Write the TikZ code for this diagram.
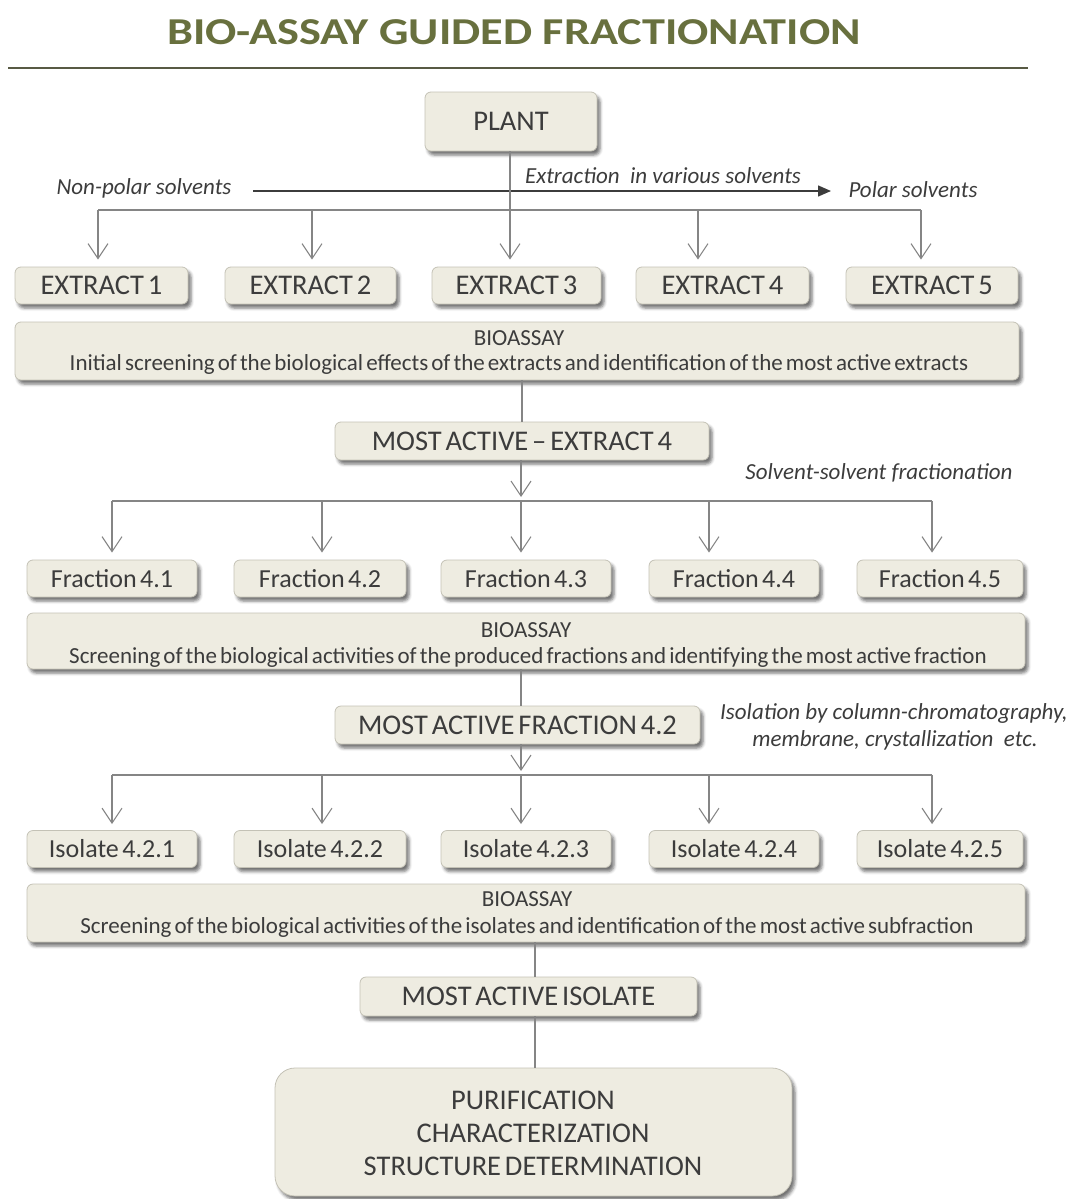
\documentclass[tikz,border=0pt]{standalone}
\usepackage{fontspec}
\setmainfont{Carlito}
\newfontfamily\boxfont{Carlito}[WordSpace=0.6]
\usetikzlibrary{arrows.meta,shadows.blur}

\definecolor{titleolive}{RGB}{104,112,62}
\definecolor{rulecol}{RGB}{88,90,68}
\definecolor{boxfill}{HTML}{EEECE1}
\definecolor{boxedge}{HTML}{C4C2B6}
\definecolor{ink}{HTML}{3C3C3C}
\definecolor{linkcol}{HTML}{858585}

\tikzset{
  box/.style={draw=boxedge, fill=boxfill, line width=0.8pt, rounded corners=6pt,
    inner sep=0pt, text=ink, font=\boxfont\fontsize{28.5}{32}\selectfont,
    blur shadow={shadow xshift=3pt, shadow yshift=-4pt, shadow blur radius=3pt, shadow opacity=55}},
  smallbox/.style={box, minimum height=37pt},
  mixedbox/.style={smallbox, font=\boxfont\fontsize{26}{30}\selectfont},
  wide/.style={box, minimum width=998pt, minimum height=57pt},
  head/.style={text=ink, inner sep=0pt, font=\boxfont\fontsize{23}{26}\selectfont},
  desc/.style={text=ink, inner sep=0pt, font=\boxfont\fontsize{23}{26}\selectfont},
  note/.style={text=ink, inner sep=0pt, font=\itshape\fontsize{23}{26}\selectfont},
  finline/.style={text=ink, inner sep=0pt, font=\boxfont\fontsize{28.5}{32}\selectfont},
  link/.style={draw=linkcol, line width=1.1pt},
  openarrow/.style={link, -{Straight Barb[length=15pt,width=20pt,line width=1.1pt]}},
}

\begin{document}
\begin{tikzpicture}[x=1pt, y=-1pt]
\useasboundingbox (0,0) rectangle (1071,1199);

% title and rule
\node[text=titleolive, inner sep=0pt, font=\bfseries\fontsize{38}{42}\selectfont] (title) at (514,32)
  {\scalebox{1.218}[1]{BIO-ASSAY GUIDED FRACTIONATION}};
\coordinate (r0) at (8,68);
\coordinate (r1) at (1028,68);
\draw[rulecol, line width=2pt] (r0) -- (r1);

% plant and extraction
\node[box, minimum width=172pt, minimum height=59pt] (plant) at (511,121.5) {PLANT};

\coordinate (np0) at (253,191);
\coordinate (np1) at (831,191);
\draw[ink, line width=1.4pt, -{Triangle[length=13pt,width=11pt]}] (np0) -- (np1);
\node[note] (nonpolar) at (144,188) {Non-polar solvents};
\node[note] (extraction) at (663,176) {Extraction\ \ in various solvents};
\node[note] (polar) at (913,190) {Polar solvents};

\node[smallbox, minimum width=173pt] (e1) at (101.5,285.5) {EXTRACT 1};
\node[smallbox, minimum width=171pt] (e2) at (310.5,285.5) {EXTRACT 2};
\node[smallbox, minimum width=169pt] (e3) at (516.5,285.5) {EXTRACT 3};
\node[smallbox, minimum width=173pt] (e4) at (722.5,285.5) {EXTRACT 4};
\node[smallbox, minimum width=172pt] (e5) at (932,285.5) {EXTRACT 5};

\coordinate (b1) at (98,210);
\coordinate (b2) at (312,210);
\coordinate (b3) at (510,210);
\coordinate (b4) at (698,210);
\coordinate (b5) at (921,210);
\draw[link] (b1) -- (b5);
\draw[openarrow] (plant.south -| b3) -- ([yshift=7pt]b3 |- e3.north);
\foreach \i in {1,2,4,5}
  \draw[openarrow] (b\i) -- ([yshift=7pt]b\i |- e\i.north);

% first bioassay
\node[box, minimum width=1004pt, minimum height=58pt] (bio1) at (517,351) {};
\node[head] (bio1h) at (519,338) {BIOASSAY};
\node[desc] (bio1d) at (519,364) {Initial screening of the biological effects of the extracts and identification of the most active extracts};

\node[box, minimum width=374pt, minimum height=38pt] (ma4) at (522,441) {MOST ACTIVE – EXTRACT 4};
\draw[link] (ma4.north |- bio1.south) -- (ma4.north);
\node[note] (ssf) at (879,473) {Solvent-solvent fractionation};

% fractions
\coordinate (c1) at (112,501);
\coordinate (c2) at (322,501);
\coordinate (c3) at (521,501);
\coordinate (c4) at (709,501);
\coordinate (c5) at (932,501);
\draw[openarrow] (ma4.south -| c3) -- ([yshift=4pt]c3);
\draw[link] (c1) -- (c5);

\node[mixedbox, minimum width=170pt] (f1) at (112,578.5) {Fraction 4.1};
\node[mixedbox, minimum width=172pt] (f2) at (320,578.5) {Fraction 4.2};
\node[mixedbox, minimum width=170pt] (f3) at (526,578.5) {Fraction 4.3};
\node[mixedbox, minimum width=170pt] (f4) at (734,578.5) {Fraction 4.4};
\node[mixedbox, minimum width=166pt] (f5) at (940,578.5) {Fraction 4.5};
\foreach \i in {1,...,5}
  \draw[openarrow] (c\i) -- ([yshift=7pt]c\i |- f\i.north);

% second bioassay
\node[wide, minimum height=56pt] (bio2) at (526,641) {};
\node[head] (bio2h) at (526,630) {BIOASSAY};
\node[desc] (bio2d) at (528,657) {Screening of the biological activities of the produced fractions and identifying the most active fraction};

\node[box, minimum width=365pt, minimum height=38pt] (ma42) at (517.5,725) {MOST ACTIVE FRACTION 4.2};
\coordinate (m42top) at (521,706);
\draw[link] (m42top |- bio2.south) -- (m42top);
\node[note] (iso1) at (894,713) {Isolation by column-chromatography,};
\node[note] (iso2) at (895,740) {membrane, crystallization\ \ etc.};

% isolates
\coordinate (d1) at (112,775);
\coordinate (d2) at (322,775);
\coordinate (d3) at (521,775);
\coordinate (d4) at (709,775);
\coordinate (d5) at (932,775);
\draw[openarrow] (ma42.south -| d3) -- ([yshift=4pt]d3);
\draw[link] (d1) -- (d5);

\node[mixedbox, minimum width=170pt] (i1) at (112,849) {Isolate 4.2.1};
\node[mixedbox, minimum width=172pt] (i2) at (320,849) {Isolate 4.2.2};
\node[mixedbox, minimum width=170pt] (i3) at (526,849) {Isolate 4.2.3};
\node[mixedbox, minimum width=170pt] (i4) at (734,849) {Isolate 4.2.4};
\node[mixedbox, minimum width=166pt] (i5) at (940,849) {Isolate 4.2.5};
\foreach \i in {1,...,5}
  \draw[openarrow] (d\i) -- ([yshift=6pt]d\i |- i\i.north);

% third bioassay
\node[wide, minimum height=58pt] (bio3) at (526,913) {};
\node[head] (bio3h) at (527,899) {BIOASSAY};
\node[desc] (bio3d) at (527,927) {Screening of the biological activities of the isolates and identification of the most active subfraction};

\node[box, minimum width=337pt, minimum height=39pt] (mai) at (528.5,996.5) {MOST ACTIVE ISOLATE};
\node[box, rounded corners=20pt, minimum width=517pt, minimum height=128pt] (final) at (533.5,1132) {};
\node[finline] (fin1) at (533,1100) {PURIFICATION};
\node[finline] (fin2) at (533,1133) {CHARACTERIZATION};
\node[finline] (fin3) at (533,1166) {STRUCTURE DETERMINATION};

\coordinate (v3) at (535,940);
\draw[link] (v3 |- bio3.south) -- (v3 |- mai.north);
\draw[link] (v3 |- mai.south) -- (v3 |- final.north);
\end{tikzpicture}
\end{document}
